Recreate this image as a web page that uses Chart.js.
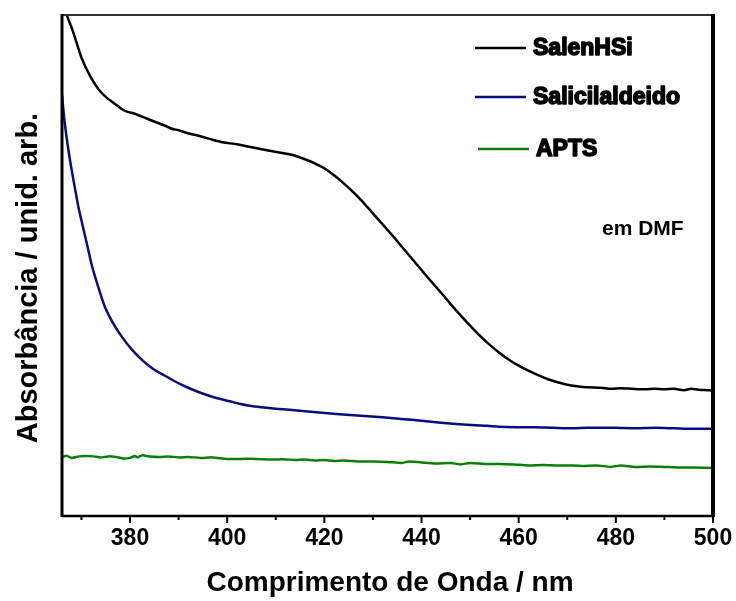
<!DOCTYPE html>
<html>
<head>
<meta charset="utf-8">
<script src="https://cdn.jsdelivr.net/npm/chart.js@4"></script>
<style>
  body { margin: 0; background: #fff; }
  #wrap { width: 736px; height: 601px; }
</style>
</head>
<body>
<div id="wrap"><canvas id="grafico" width="736" height="601"></canvas></div>
<script>
// comprimento de onda (nm) e absorbância (unid. arb.)
const salenX = [366.0, 367.0, 368.3, 370.0, 371.8, 373.5, 375.3, 377.0, 378.2, 379.4, 381.0, 383.0, 385.1, 387.0, 388.6, 390.0, 392.3, 394.5, 397.0, 399.1, 402.0, 404.0, 406.1, 408.7, 410.5, 412.8, 414.3, 416.0, 418.0, 420.0, 422.0, 424.0, 426.0, 428.0, 430.0, 432.0, 434.0, 436.0, 438.0, 440.0, 442.0, 444.0, 446.0, 448.0, 450.0, 452.0, 454.0, 456.0, 458.0, 460.0, 462.0, 464.0, 466.0, 468.0, 470.0, 472.0, 474.0, 477.0, 479.0, 481.0, 483.3, 486.0, 488.0, 490.0, 492.0, 494.0, 495.5, 497.0, 499.1, 500.0];
const salenY = [1.04, 1.00, 0.966, 0.915, 0.878, 0.852, 0.834, 0.822, 0.813, 0.807, 0.803, 0.795, 0.787, 0.780, 0.773, 0.770, 0.763, 0.758, 0.751, 0.746, 0.742, 0.738, 0.734, 0.729, 0.726, 0.722, 0.718, 0.712, 0.704, 0.694, 0.680, 0.664, 0.646, 0.626, 0.604, 0.582, 0.560, 0.537, 0.514, 0.491, 0.468, 0.446, 0.423, 0.401, 0.380, 0.360, 0.342, 0.326, 0.312, 0.300, 0.290, 0.281, 0.273, 0.267, 0.262, 0.259, 0.257, 0.256, 0.254, 0.255, 0.254, 0.253, 0.254, 0.253, 0.254, 0.251, 0.254, 0.252, 0.251, 0.250];

const salicX = [366.0, 366.5, 367.2, 368.0, 368.7, 369.4, 370.1, 371.2, 372.2, 373.5, 374.8, 376.5, 378.3, 380.3, 382.4, 384.0, 385.5, 387.2, 389.2, 391.5, 393.7, 396.0, 398.0, 400.5, 402.5, 404.6, 407.0, 410.0, 412.8, 416.0, 419.5, 423.1, 426.0, 429.0, 432.0, 435.4, 438.0, 441.0, 444.0, 447.8, 451.0, 453.5, 456.0, 459.5, 463.0, 467.0, 471.0, 474.0, 476.5, 480.0, 484.0, 488.0, 492.0, 496.0, 500.0];
const salicY = [0.840, 0.790, 0.738, 0.690, 0.652, 0.616, 0.586, 0.540, 0.498, 0.456, 0.418, 0.385, 0.358, 0.333, 0.312, 0.299, 0.289, 0.280, 0.269, 0.258, 0.249, 0.241, 0.235, 0.229, 0.224, 0.220, 0.217, 0.214, 0.212, 0.209, 0.206, 0.203, 0.201, 0.199, 0.197, 0.194, 0.192, 0.189, 0.186, 0.183, 0.181, 0.180, 0.178, 0.177, 0.177, 0.176, 0.175, 0.176, 0.176, 0.176, 0.175, 0.176, 0.175, 0.174, 0.174];

const aptsX = [366.0, 367.0, 368.0, 369.5, 371.0, 372.5, 374.0, 375.5, 377.0, 378.5, 380.0, 381.0, 381.5, 382.5, 384.0, 386.0, 388.0, 390.0, 392.0, 394.5, 397.0, 400.0, 403.0, 406.0, 409.0, 412.0, 414.0, 416.0, 418.0, 420.0, 422.0, 424.0, 427.0, 430.0, 433.0, 436.0, 437.5, 440.0, 443.0, 446.0, 448.0, 450.0, 453.0, 456.0, 459.0, 462.0, 465.0, 468.0, 470.0, 473.0, 476.0, 479.0, 481.0, 484.0, 487.0, 490.0, 493.0, 496.0, 500.0];
const aptsY = [0.118, 0.120, 0.116, 0.119, 0.120, 0.119, 0.117, 0.119, 0.118, 0.115, 0.116, 0.120, 0.117, 0.121, 0.119, 0.118, 0.119, 0.117, 0.118, 0.116, 0.117, 0.114, 0.114, 0.114, 0.113, 0.113, 0.112, 0.113, 0.111, 0.112, 0.110, 0.111, 0.109, 0.109, 0.108, 0.106, 0.109, 0.107, 0.105, 0.106, 0.103, 0.106, 0.104, 0.104, 0.103, 0.101, 0.102, 0.101, 0.101, 0.100, 0.101, 0.098, 0.101, 0.098, 0.099, 0.098, 0.097, 0.097, 0.096];

const seriesNames = ["SalenHSi", "Salicilaldeido", "APTS"];
const seriesColors = ["#000000", "#0c0c80", "#0a800a"];
const xMajorTicks = [380, 400, 420, 440, 460, 480, 500];
const xMinorTicks = [370, 390, 410, 430, 450, 470, 490];
const xTitle = "Comprimento de Onda / nm";
const yTitle = "Absorbância / unid. arb.";
const note = "em DMF";

function pontos(xs, ys) {
    return xs.map((x, i) => ({ x: x, y: ys[i] }));
}

// moldura, marcas, títulos e legenda desenhados à mão
const extras = {
    id: "extras",
    afterDatasetsDraw(chart) {
        const ctx = chart.ctx;
        const a = chart.chartArea;
        const xs = chart.scales.x;
        ctx.save();

        // moldura
        ctx.strokeStyle = "#333";
        ctx.lineWidth = 2;
        ctx.beginPath(); ctx.moveTo(a.left, a.top); ctx.lineTo(a.right, a.top); ctx.stroke();
        ctx.strokeStyle = "#000";
        ctx.lineWidth = 3;
        ctx.beginPath(); ctx.moveTo(a.left, a.top - 1); ctx.lineTo(a.left, a.bottom + 1); ctx.stroke();
        ctx.lineWidth = 2.5;
        ctx.beginPath(); ctx.moveTo(a.left, a.bottom); ctx.lineTo(a.right, a.bottom); ctx.stroke();
        ctx.lineWidth = 4;
        ctx.beginPath(); ctx.moveTo(a.right, a.top - 1); ctx.lineTo(a.right, a.bottom + 1); ctx.stroke();

        // marcas do eixo x
        ctx.lineWidth = 2;
        xMajorTicks.forEach(v => {
            const px = xs.getPixelForValue(v);
            ctx.beginPath(); ctx.moveTo(px, a.bottom); ctx.lineTo(px, a.bottom + 7); ctx.stroke();
        });
        xMinorTicks.forEach(v => {
            const px = xs.getPixelForValue(v);
            ctx.beginPath(); ctx.moveTo(px, a.bottom); ctx.lineTo(px, a.bottom + 4); ctx.stroke();
        });

        // títulos dos eixos
        ctx.fillStyle = "#000";
        ctx.font = "bold 28px 'Liberation Sans', Arial, sans-serif";
        ctx.textAlign = "center";
        ctx.textBaseline = "middle";
        ctx.fillText(xTitle, 390, 583);
        ctx.save();
        ctx.translate(29, 278);
        ctx.rotate(-Math.PI / 2);
        ctx.font = "bold 29px 'Liberation Sans', Arial, sans-serif";
        ctx.fillText(yTitle, 0, 0);
        ctx.restore();

        // legenda
        const linhas = [[475, 526, 48, 533], [475, 526, 97, 533], [478, 529, 149, 536]];
        ctx.textAlign = "left";
        ctx.font = "bold 23px 'Liberation Sans', Arial, sans-serif";
        seriesNames.forEach((nome, i) => {
            const l = linhas[i];
            ctx.strokeStyle = seriesColors[i];
            ctx.lineWidth = 2.5;
            ctx.beginPath(); ctx.moveTo(l[0], l[2]); ctx.lineTo(l[1], l[2]); ctx.stroke();
            ctx.strokeStyle = "#000";
            ctx.lineWidth = 1.6;
            ctx.lineJoin = "round";
            ctx.strokeText(nome, l[3], l[2] + 1);
            ctx.fillText(nome, l[3], l[2] + 1);
        });

        ctx.font = "bold 21px 'Liberation Sans', Arial, sans-serif";
        ctx.fillText(note, 602, 229);
        ctx.restore();
    }
};

document.addEventListener("DOMContentLoaded", function () {
    const ctx = document.getElementById("grafico").getContext("2d");
    const dados = [pontos(salenX, salenY), pontos(salicX, salicY), pontos(aptsX, aptsY)];

    new Chart(ctx, {
        type: "line",
        data: {
            datasets: dados.map((d, i) => ({
                label: seriesNames[i],
                data: d,
                borderColor: seriesColors[i],
                borderWidth: 2.5,
                pointRadius: 0,
                fill: false,
                tension: 0.25
            }))
        },
        options: {
            responsive: false,
            animation: false,
            layout: { padding: { left: 0, top: 15, right: 23, bottom: 0 } },
            plugins: {
                legend: { display: false },
                tooltip: { enabled: false }
            },
            scales: {
                x: {
                    type: "linear",
                    min: 366,
                    max: 500,
                    afterBuildTicks: s => { s.ticks = xMajorTicks.map(v => ({ value: v })); },
                    afterFit: s => { s.height = 85; s.paddingLeft = 0; s.paddingRight = 0; },
                    grid: { display: false },
                    border: { display: false },
                    ticks: {
                        color: "#000",
                        padding: 1,
                        maxRotation: 0,
                        font: { family: "'Liberation Sans', Arial, sans-serif", size: 23, weight: "bold" }
                    }
                },
                y: {
                    min: 0,
                    max: 1,
                    afterFit: s => { s.width = 62; },
                    grid: { display: false },
                    border: { display: false },
                    ticks: { display: false }
                }
            }
        },
        plugins: [extras]
    });
});
</script>
</body>
</html>
